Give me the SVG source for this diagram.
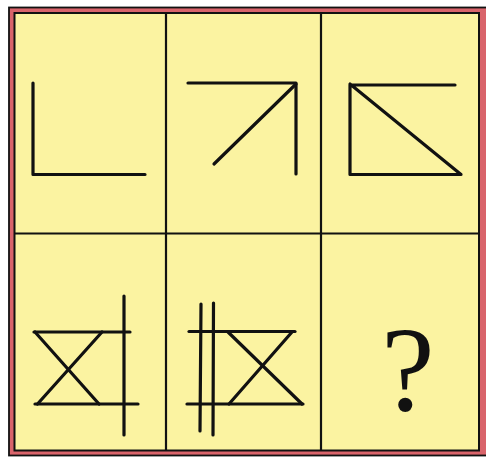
<svg xmlns="http://www.w3.org/2000/svg" width="486" height="457" viewBox="0 0 486 457">
<style>
.fig{stroke:#111;stroke-width:3.2;fill:none;stroke-linecap:round;stroke-linejoin:round}
.grid{stroke:#111;stroke-width:2.2;fill:none}
</style>
<rect x="0" y="0" width="486" height="457" fill="#ffffff"/>
<g id="frame">
<rect x="9" y="7.5" width="478" height="448" fill="#d9646b" stroke="#111" stroke-width="1.8"/>
<rect x="14.5" y="13" width="464.5" height="437.5" fill="#fbf3a1" stroke="#111" stroke-width="2"/>
<line class="grid" x1="166" y1="13" x2="166" y2="450.5"/>
<line class="grid" x1="321" y1="13" x2="321" y2="450.5"/>
<line class="grid" x1="14.5" y1="233.5" x2="479" y2="233.5"/>
</g>
<g id="cell1">
<path class="fig" d="M33,83 V174.5 H145"/>
</g>
<g id="cell2">
<path class="fig" d="M188,83 H296 V174"/>
<line class="fig" x1="296" y1="84" x2="214" y2="164"/>
</g>
<g id="cell3">
<path class="fig" d="M455,85 H350 V174.5 H461 L350,84"/>
</g>
<g id="cell4">
<line class="fig" x1="34" y1="332" x2="130" y2="332"/>
<line class="fig" x1="35" y1="404" x2="138" y2="404"/>
<line class="fig" x1="124" y1="296" x2="124" y2="435"/>
<line class="fig" x1="35" y1="332" x2="99" y2="404"/>
<line class="fig" x1="102" y1="332" x2="37.5" y2="404"/>
</g>
<g id="cell5">
<line class="fig" x1="201" y1="304" x2="200" y2="431"/>
<line class="fig" x1="213.5" y1="303" x2="213" y2="435"/>
<line class="fig" x1="189" y1="331.5" x2="295" y2="331.5"/>
<line class="fig" x1="187" y1="404" x2="303" y2="404"/>
<line class="fig" x1="228" y1="332" x2="302" y2="404"/>
<line class="fig" x1="292" y1="332" x2="229" y2="404"/>
</g>
<g id="cell6">
<text x="408" y="410" font-family="Liberation Serif, serif" font-size="120" text-anchor="middle" fill="#111">?</text>
</g>
</svg>
